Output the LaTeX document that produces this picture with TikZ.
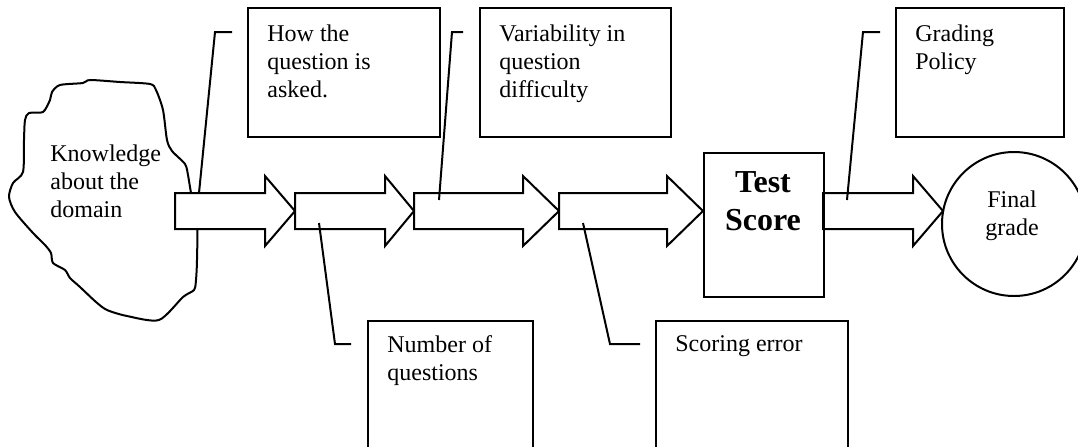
\documentclass[tikz,border=0pt]{standalone}
\usepackage{fontspec}
\setmainfont{Liberation Serif}
\usetikzlibrary{positioning,calc}
\tikzset{
    outline/.style={line width=1pt, black},
    blockarrow/.style={outline, fill=white, line join=miter},
    callbox/.style={rectangle, draw, line width=1pt, minimum height=64.5pt, anchor=north west, inner sep=0pt},
    calltext/.style={anchor=north west, inner sep=0pt, align=left, font=\fontsize{12}{14}\selectfont},
    callout/.style={outline},
}

\begin{document}
\begin{tikzpicture}[x=0.5pt, y=-0.5pt]
    \useasboundingbox (0,0) rectangle (1078,446);
    \clip (0,0) rectangle (1078,446);

    % Knowledge cloud
    \draw[outline] plot[smooth cycle, tension=0.45] coordinates {
        (52,92) (60,85) (83,83) (90,80) (120,82) (150,84) (156,90) (163,110)
        (167,140) (172,151) (185,164) (188,175) (191,193) (197,225) (197,260)
        (196,280) (194,290) (183,297) (159,320) (127,316) (107,310) (96,302)
        (80,287) (70,278) (65,270) (53,263) (51,253) (45,245) (33,233) (15,212)
        (9,197) (13,183) (23,172) (24,140) (25,120) (29,113) (43,112) (50,100)};
    \node[calltext] (know) at (50,144) {Knowledge\\about the\\domain};

    % Block arrows
    \foreach \a/\b/\c in {175/265/295, 295/385/414, 414/523/559, 559/667/703, 823/913/943} {
        \draw[blockarrow] (\a,193) -- (\b,193) -- (\b,176) -- (\c,211)
            -- (\b,246) -- (\b,229) -- (\a,229) -- cycle;
    }

    % Score and grade
    \node[callbox, minimum width=60pt, minimum height=72pt] (score) at (703,152) {};
    \node[anchor=north, inner sep=0pt, align=center, font=\fontsize{16}{19}\selectfont\bfseries]
        (scoretext) at (763,171) {Test\\Score};
    \node[circle, draw, line width=1pt, minimum size=72pt, inner sep=0pt] (grade) at (1014,224) {};
    \node[anchor=north, inner sep=0pt, align=center, font=\fontsize{12}{14}\selectfont]
        (gradetext) at (1012,190) {Final\\grade};

    % Top boxes
    \node[callbox, minimum width=96pt] (howbox) at (247,7) {};
    \node[calltext] (howtext) at ($(howbox.north west)+(20,17)$) {How the\\question is\\asked.};
    \node[callbox, minimum width=95.5pt] (varbox) at (479,7) {};
    \node[calltext] (vartext) at ($(varbox.north west)+(20,17)$) {Variability in\\question\\difficulty};
    \node[callbox, minimum width=84pt] (gradebox) at (895,7) {};
    \node[calltext] (gradingtext) at ($(gradebox.north west)+(20,17)$) {Grading\\Policy};

    % Bottom boxes
    \node[callbox, minimum width=82.5pt, minimum height=75pt] (numbox) at (367,320) {};
    \node[calltext] (numtext) at ($(numbox.north west)+(20,15)$) {Number of\\questions};
    \node[callbox, minimum width=96pt, minimum height=75pt] (errbox) at (655,320) {};
    \node[calltext] (errtext) at ($(errbox.north west)+(20,15)$) {Scoring error};

    % Callout lines
    \coordinate (howtip) at (199,193);
    \coordinate (vartip) at (439,200);
    \coordinate (gradingtip) at (847,200);
    \coordinate (numtip) at (319,223);
    \coordinate (errtip) at (583,223);
    \draw[callout] (howtip) -- (215,32) -- (232,32);
    \draw[callout] (vartip) -- (452,32) -- (463,32);
    \draw[callout] (gradingtip) -- (863,32) -- (880,32);
    \draw[callout] (numtip) -- (335,344) -- (351,344);
    \draw[callout] (errtip) -- (610,344) -- (640,344);
\end{tikzpicture}
\end{document}
